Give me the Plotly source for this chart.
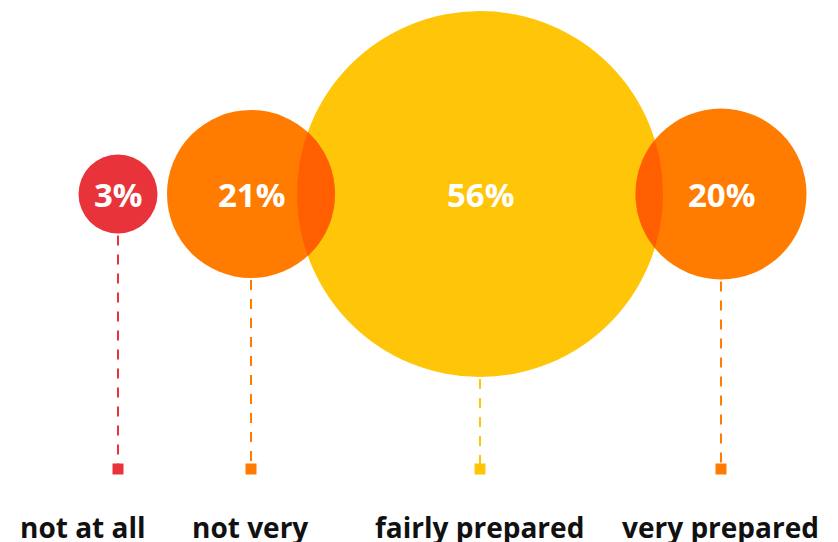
import math
import plotly.graph_objects as go

# ---- data ----
categories = ["not at all", "not very", "fairly prepared", "very prepared"]
values = [3, 21, 56, 20]

# ---- layout / style (pixel-like plot coordinates) ----
W, H = 838, 542
center_x = [118, 251, 480, 721]
center_y = 194
radius_px = [39.5, 84, 183, 85.5]
stem_end_y = 469
label_x = [83, 250, 479, 720]
label_y = 527
colors = ["#E8333A", "#FF7C00", "#FFC508", "#FF7C00"]
overlap_color = "#FF5F00"
draw_order = [2, 0, 1, 3]
overlaps = [(1, 2), (2, 3)]
font_family = "Open Sans"

fig = go.Figure()

# circles
for i in draw_order:
    fig.add_trace(go.Scatter(
        x=[center_x[i]], y=[center_y], mode="markers",
        marker=dict(size=2 * radius_px[i], color=colors[i], line=dict(width=0)),
        hoverinfo="skip"))


def lens(a, b, n=60):
    c1, r1 = center_x[a], radius_px[a]
    c2, r2 = center_x[b], radius_px[b]
    d = c2 - c1
    xi = (d * d - r2 * r2 + r1 * r1) / (2 * d)
    h = math.sqrt(max(r1 * r1 - xi * xi, 0))
    t1 = math.atan2(h, xi)
    t2 = math.atan2(h, d - xi)
    xs, ys = [], []
    for k in range(n + 1):
        t = -t1 + 2 * t1 * k / n
        xs.append(c1 + r1 * math.cos(t))
        ys.append(center_y + r1 * math.sin(t))
    for k in range(n + 1):
        t = math.pi - t2 + 2 * t2 * k / n
        xs.append(c2 + r2 * math.cos(t))
        ys.append(center_y + r2 * math.sin(t))
    return xs, ys


for a, b in overlaps:
    xs, ys = lens(a, b)
    fig.add_trace(go.Scatter(x=xs, y=ys, mode="lines", fill="toself",
                             fillcolor=overlap_color, line=dict(width=0),
                             hoverinfo="skip"))

# stems and squares
for i in range(len(values)):
    fig.add_trace(go.Scatter(
        x=[center_x[i], center_x[i]], y=[center_y + radius_px[i] + 2, stem_end_y],
        mode="lines", line=dict(color=colors[i], width=2, dash="10px,9px"),
        hoverinfo="skip"))
    fig.add_trace(go.Scatter(
        x=[center_x[i]], y=[stem_end_y], mode="markers",
        marker=dict(symbol="square", size=11, color=colors[i], line=dict(width=0)),
        hoverinfo="skip"))

annotations = []
for i, v in enumerate(values):
    annotations.append(dict(
        x=center_x[i], y=center_y, text=f"<b>{v}%</b>", showarrow=False,
        xanchor="center", yanchor="middle",
        font=dict(family=font_family, size=33, color="white")))
    annotations.append(dict(
        x=label_x[i], y=label_y, text=f"<b>{categories[i]}</b>", showarrow=False,
        xanchor="center", yanchor="middle",
        font=dict(family=font_family, size=28, color="#111111")))

fig.update_layout(
    width=W, height=H, margin=dict(l=0, r=0, t=0, b=0),
    paper_bgcolor="white", plot_bgcolor="white", showlegend=False,
    hovermode=False, annotations=annotations,
    xaxis=dict(range=[0, W], visible=False, fixedrange=True),
    yaxis=dict(range=[H, 0], visible=False, fixedrange=True),
)

fig.write_html(
    "out.html",
    config={"displayModeBar": False, "staticPlot": True},
    post_script="document.body.style.margin='0';document.body.style.overflow='hidden';",
)
